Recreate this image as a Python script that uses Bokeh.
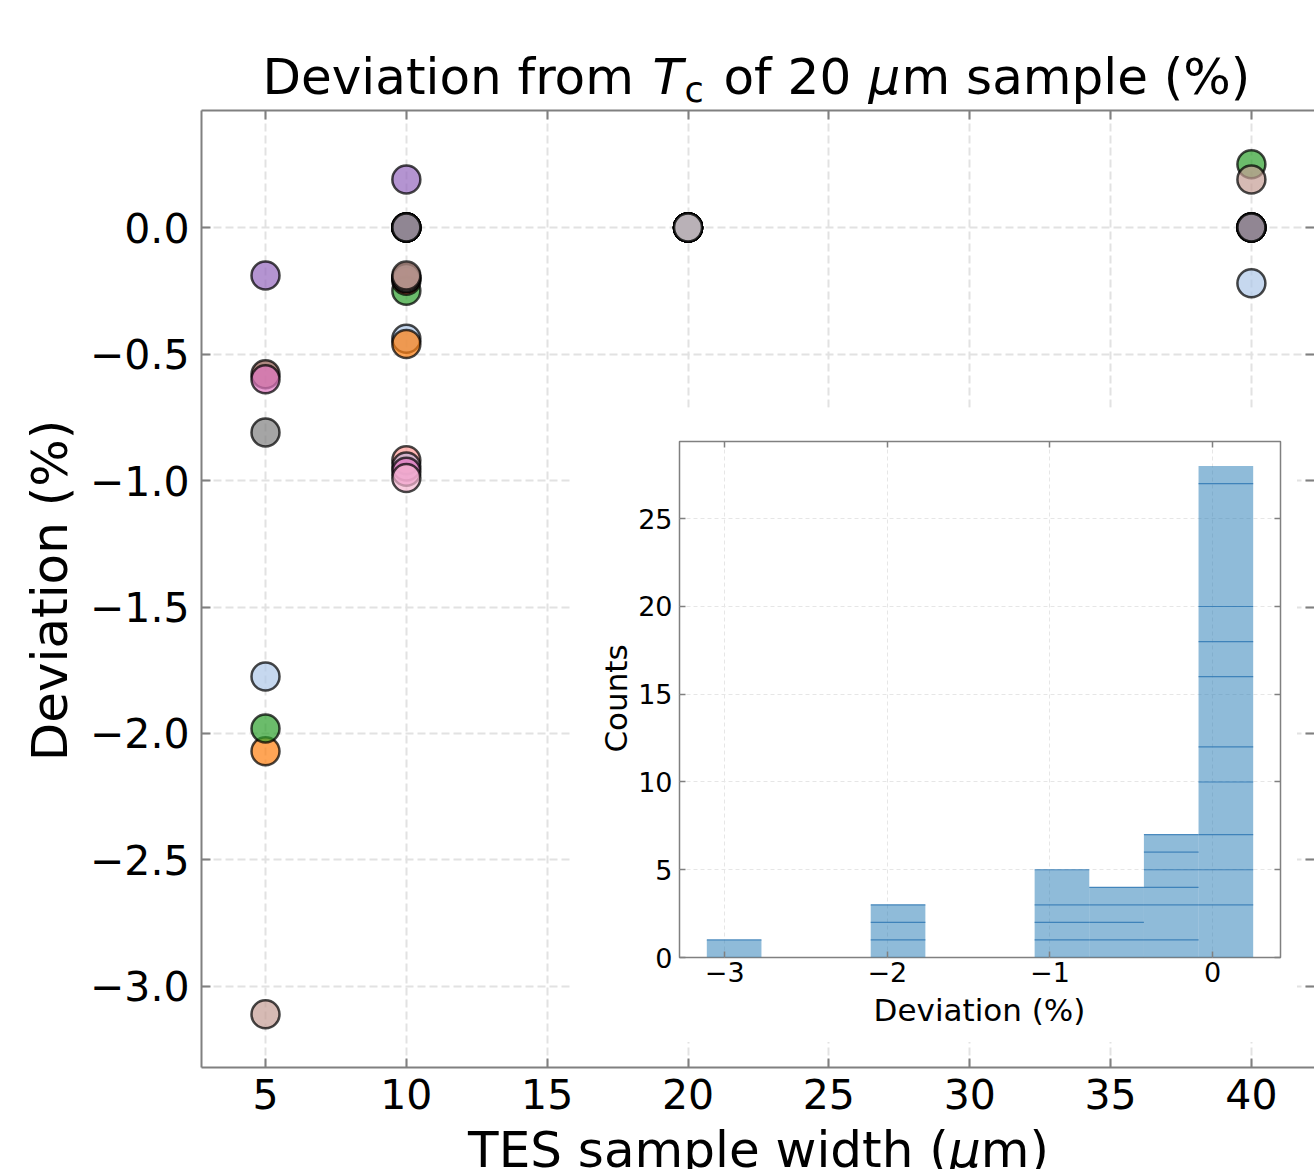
import numpy as np
from bokeh.plotting import figure
from bokeh.models import (ColumnDataSource, Range1d, FixedTicker, LinearAxis, Label,
                          CustomJSTickFormatter)
from bokeh.embed import file_html
from bokeh.resources import INLINE

FONT = "DejaVu Sans"

# ---------------- data ----------------
# TES width (um), deviation from Tc of the 20 um sample (%), marker colour, stacked-histogram group
sample_width = [5, 5, 5, 5, 5, 10, 10, 10, 10, 5, 5, 10, 10, 5, 10, 10, 10, 10, 10, 40,
                10, 40, 40,
                20, 20, 20, 20, 20, 20, 20, 20, 20, 20, 20, 20,
                10, 10, 10, 10, 10, 10, 10,
                40, 40, 40, 40, 40, 40]
deviation = [-3.11, -1.775, -2.07, -1.98, -0.81, -0.92, -0.945, -0.965, -0.99, -0.58, -0.60,
             -0.44, -0.46, -0.19, -0.25, -0.21, -0.20, -0.20, -0.19, -0.22,
             0.19, 0.25, 0.19,
             0.0, 0.0, 0.0, 0.0, 0.0, 0.0, 0.0, 0.0, 0.0, 0.0, 0.0, 0.0,
             0.0, 0.0, 0.0, 0.0, 0.0, 0.0, 0.0,
             0.0, 0.0, 0.0, 0.0, 0.0, 0.0]
point_color = ["#c49c94", "#aec7e8", "#ff7f0e", "#2ca02c", "#7f7f7f", "#ff9896", "#c5b0d5",
               "#e377c2", "#f7b6d2", "#8c564b", "#e377c2", "#aec7e8", "#ff7f0e", "#9467bd",
               "#2ca02c", "#d62728", "#8c564b", "#7f7f7f", "#c49c94", "#aec7e8",
               "#9467bd", "#2ca02c", "#c49c94",
               "#1f77b4", "#aec7e8", "#ff7f0e", "#ffbb78", "#2ca02c", "#98df8a", "#d62728",
               "#ff9896", "#9467bd", "#e377c2", "#7f7f7f", "#c7c7c7",
               "#1f77b4", "#ff7f0e", "#2ca02c", "#d62728", "#9467bd", "#c5b0d5", "#7f7f7f",
               "#1f77b4", "#ff7f0e", "#d62728", "#9467bd", "#c5b0d5", "#7f7f7f"]
hist_stack = [0, 0, 2, 1, 0, 1, 2, 3, 3, 0, 1, 2, 3, 0, 4, 3, 2, 1, 1, 5,
              0, 4, 1,
              0, 0, 1, 2, 2, 3, 3, 3, 4, 5, 5, 5,
              5, 6, 6, 7, 7, 8, 8,
              8, 8, 8, 8, 8, 9]

x_ticks = [5, 10, 15, 20, 25, 30, 35, 40]
y_ticks = [0.0, -0.5, -1.0, -1.5, -2.0, -2.5, -3.0]
hist_x_ticks = [-3, -2, -1, 0]
hist_y_ticks = [0, 5, 10, 15, 20, 25]
n_bins = 10

# ---------------- helpers ----------------
GRID_COLOR = "#e2e2e2"
SPINE = "#808080"
EMPTY = "return ''"


def style_axis(ax, ticks, code, size, standoff, tick_len, tick_w, line_w=None):
    ax.ticker = FixedTicker(ticks=ticks)
    ax.formatter = CustomJSTickFormatter(code=code)
    ax.major_tick_in = tick_len
    ax.major_tick_out = 0
    ax.minor_tick_in = 0
    ax.minor_tick_out = 0
    ax.major_tick_line_color = SPINE
    ax.major_tick_line_width = tick_w
    if line_w is None:
        ax.axis_line_color = None
    else:
        ax.axis_line_color = SPINE
        ax.axis_line_width = line_w
    ax.major_label_text_font = FONT
    ax.major_label_text_font_size = size
    ax.major_label_text_color = "black"
    ax.major_label_standoff = standoff


# Bokeh draws an "alphabetic" label roughly 0.34 em lower than asked; compensate here
BASE_SHIFT = 0.34


def add_text(fig, x, y, text, size, italic=False, rotated=False, align="left"):
    shift = BASE_SHIFT * size
    if rotated:
        x, y, angle = x - shift, y, np.pi / 2
    else:
        y, angle = y - shift, 0.0
    fig.add_layout(Label(x=x, y=y, text=text,
                         text_font=FONT, text_font_size=f"{size}px",
                         text_font_style="italic" if italic else "normal",
                         text_color="black", angle=angle, angle_units="rad",
                         text_align=align, text_baseline="alphabetic"))


# ---------------- main scatter figure ----------------
p = figure(width=1314, height=1169, output_backend="svg", toolbar_location=None,
           x_range=Range1d(2.728, 42.24), y_range=Range1d(-3.3202, 0.4625),
           min_border_left=201, min_border_right=0, min_border_top=110, min_border_bottom=102)
p.background_fill_color = "white"
p.border_fill_color = "white"
p.outline_line_color = None

style_axis(p.xaxis[0], x_ticks, "return tick.toFixed(0)", "41px", 11, 9, 2, line_w=2)
style_axis(p.yaxis[0], y_ticks, "return tick.toFixed(1).replace('-', '\u2212')", "41px", 12, 9, 2, line_w=2)
top_ax = LinearAxis()
right_ax = LinearAxis()
style_axis(top_ax, x_ticks, EMPTY, "0px", 0, 9, 2, line_w=2)
style_axis(right_ax, y_ticks, EMPTY, "0px", 0, 9, 2)
p.add_layout(top_ax, "above")
p.add_layout(right_ax, "right")

for g in (p.xgrid[0], p.ygrid[0]):
    g.grid_line_color = GRID_COLOR
    g.grid_line_width = 2
    g.grid_line_dash = "8 4"

src = ColumnDataSource(dict(x=sample_width, y=deviation, c=point_color))
p.scatter("x", "y", source=src, size=28, fill_color="c", fill_alpha=0.7,
          line_color="black", line_alpha=0.72, line_width=2.5)

# ---------------- inset histogram ----------------
dev = np.array(deviation)
grp = np.array(hist_stack)
edges = np.histogram_bin_edges(dev, bins=n_bins)
n_groups = int(grp.max()) + 1
span = edges[-1] - edges[0]

bottom = np.zeros(n_bins)
quads = dict(left=[], right=[], bottom=[], top=[])
segs = dict(x0=[], x1=[], y=[])
seen = [set() for _ in range(n_bins)]
for k in range(n_groups):
    counts, _ = np.histogram(dev[grp == k], bins=edges)
    top = bottom + counts
    for b in range(n_bins):
        if counts[b] > 0:
            quads["left"].append(edges[b]); quads["right"].append(edges[b + 1])
            quads["bottom"].append(bottom[b]); quads["top"].append(top[b])
        if k < n_groups - 1 and top[b] > 0 and top[b] not in seen[b]:
            seen[b].add(top[b])
            segs["x0"].append(edges[b]); segs["x1"].append(edges[b + 1]); segs["y"].append(top[b])
    bottom = top

h = figure(width=727, height=635, output_backend="svg", toolbar_location=None,
           x_range=Range1d(edges[0] - 0.05 * span, edges[-1] + 0.05 * span),
           y_range=Range1d(0, 1.05 * bottom.max()),
           min_border_left=109, min_border_right=17, min_border_top=34, min_border_bottom=85)
h.styles = {"position": "absolute", "left": "570px", "top": "407px"}
h.background_fill_color = "white"
h.border_fill_color = "white"
h.outline_line_color = SPINE
h.outline_line_width = 1.5

style_axis(h.xaxis[0], hist_x_ticks, "return tick.toFixed(0).replace('-', '\u2212')", "27px", 4, 6, 1.5)
style_axis(h.yaxis[0], hist_y_ticks, "return tick.toFixed(0)", "27px", 7, 6, 1.5)
htop = LinearAxis()
hright = LinearAxis()
style_axis(htop, hist_x_ticks, EMPTY, "0px", 0, 6, 1.5)
style_axis(hright, hist_y_ticks, EMPTY, "0px", 0, 6, 1.5)
h.add_layout(htop, "above")
h.add_layout(hright, "right")
for g in (h.xgrid[0], h.ygrid[0]):
    g.grid_line_color = "#e6e6e6"
    g.grid_line_width = 1
    g.grid_line_dash = "4 3"

h.quad(left="left", right="right", bottom="bottom", top="top", source=ColumnDataSource(quads),
       fill_color="#1f77b4", fill_alpha=0.5, line_color=None)
h.segment(x0="x0", y0="y", x1="x1", y1="y", source=ColumnDataSource(segs),
          line_color="#2f78b4", line_alpha=0.85, line_width=1.2)

# ---------------- transparent text overlay (page pixel coordinates) ----------------
ov = figure(width=1314, height=1169, output_backend="svg", toolbar_location=None,
            x_range=Range1d(0, 1314), y_range=Range1d(1169, 0),
            x_axis_location=None, y_axis_location=None,
            min_border_left=0, min_border_right=0, min_border_top=0, min_border_bottom=0)
ov.styles = {"position": "absolute", "left": "0px", "top": "0px", "pointer-events": "none"}
ov.xgrid.visible = False
ov.ygrid.visible = False
ov.outline_line_color = None
ov.background_fill_alpha = 0
ov.border_fill_alpha = 0

# title: Deviation from T_c of 20 um sample (%)
TY = 93.5
add_text(ov, 262, TY, "Deviation from", 50)
add_text(ov, 652, TY, "T", 50, italic=True)
add_text(ov, 684, TY + 8, "c", 35)
add_text(ov, 723, TY, "of 20", 50)
add_text(ov, 868, TY, "\u03bc", 50, italic=True)
add_text(ov, 901, TY, "m sample (%)", 50)
# main axis labels
add_text(ov, 66, 590, "Deviation (%)", 50, rotated=True, align="center")
XY = 1166.5
add_text(ov, 467.6, XY, "TES sample width (", 50)
add_text(ov, 948.4, XY, "\u03bc", 50, italic=True)
add_text(ov, 980.2, XY, "m)", 50)
# inset axis labels
add_text(ov, 626, 698, "Counts", 31, rotated=True, align="center")
add_text(ov, 979, 1019.6, "Deviation (%)", 31, align="center")

open("out.html", "w").write(file_html([p, h, ov], INLINE))
